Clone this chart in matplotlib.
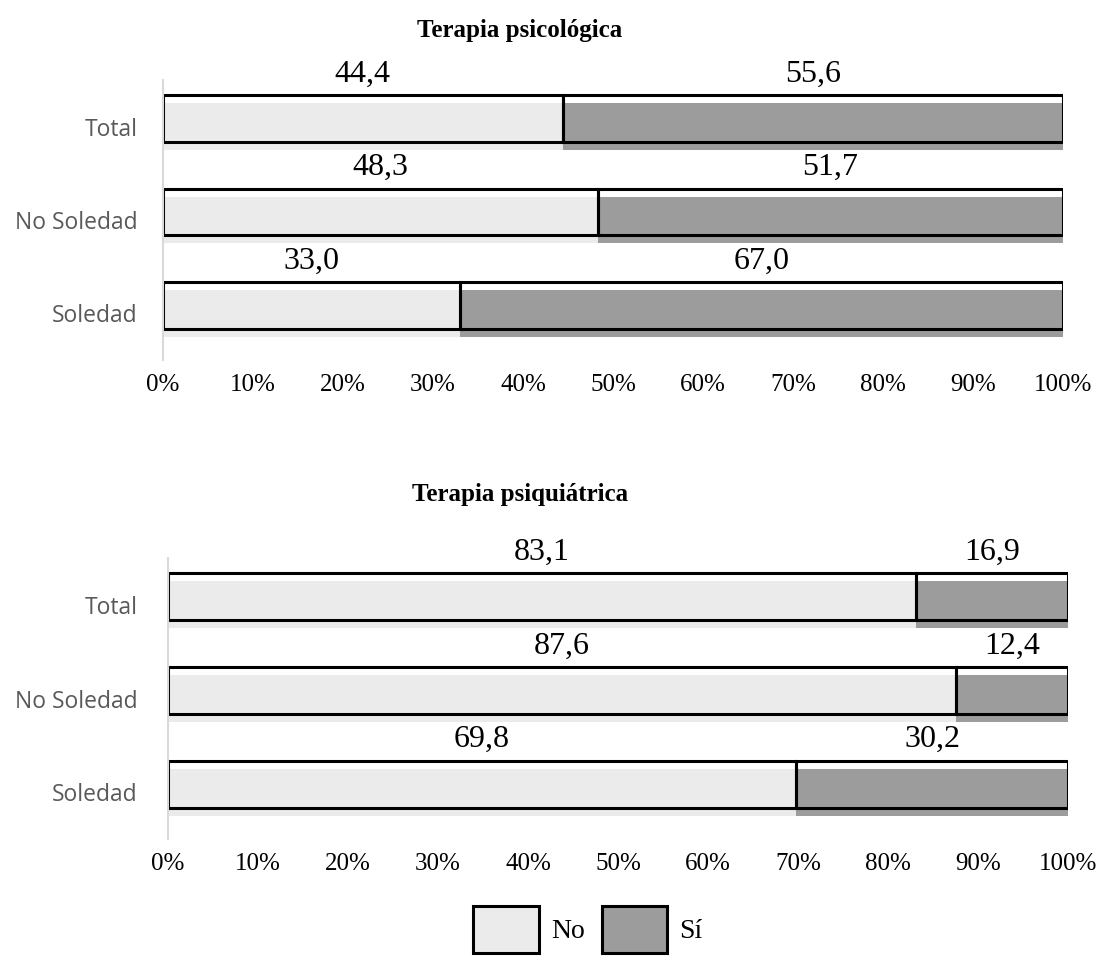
import matplotlib
matplotlib.use('Agg')
import matplotlib.pyplot as plt
from matplotlib.patches import Patch
import numpy as np

# Data
categories = ['Total', 'No Soledad', 'Soledad']
psico_no = [44.4, 48.3, 33.0]
psico_si = [55.6, 51.7, 67.0]
psiq_no = [83.1, 87.6, 69.8]
psiq_si = [16.9, 12.4, 30.2]
xticks = [0, 10, 20, 30, 40, 50, 60, 70, 80, 90, 100]

# Colors
c_no = '#EBEBEB'
c_si = '#9C9C9C'
c_spine = '#D9D9D9'
c_ylab = '#595959'

serif = ['Liberation Serif', 'DejaVu Serif']
sans = ['Open Sans', 'DejaVu Sans']

fig = plt.figure(figsize=(10.99, 9.56), dpi=100)

shift = 0.086   # outline sits a bit above the fill
h = 0.5


def fmt(v):
    return f'{v:.1f}'.replace('.', ',')


def draw_panel(ax, no_vals, si_vals):
    y = np.arange(len(categories))
    no_vals = np.array(no_vals)
    si_vals = np.array(si_vals)
    # fills
    ax.barh(y, no_vals, height=h, color=c_no, linewidth=0)
    ax.barh(y, si_vals, left=no_vals, height=h, color=c_si, linewidth=0)
    # outlines
    ax.barh(y - shift, no_vals, height=h, facecolor='none',
            edgecolor='black', linewidth=2.2)
    ax.barh(y - shift, si_vals, left=no_vals, height=h, facecolor='none',
            edgecolor='black', linewidth=2.2)
    # value labels
    for i in range(len(categories)):
        ax.text(no_vals[i] / 2, y[i] - 0.56, fmt(no_vals[i]),
                ha='center', va='center', fontsize=23, family=serif)
        ax.text(no_vals[i] + si_vals[i] / 2, y[i] - 0.56, fmt(si_vals[i]),
                ha='center', va='center', fontsize=23, family=serif)
    ax.set_xlim(0, 100)
    ax.set_ylim(len(categories) - 0.5, -0.5)
    ax.set_yticks(y)
    ax.set_yticklabels(categories, family=sans, fontsize=16.5, color=c_ylab)
    ax.set_xticks(xticks)
    ax.set_xticklabels([f'{t}%' for t in xticks], family=serif, fontsize=18)
    ax.tick_params(axis='both', length=0)
    ax.tick_params(axis='x', pad=10)
    for s in ['top', 'right', 'bottom']:
        ax.spines[s].set_visible(False)
    ax.spines['left'].set_color(c_spine)
    ax.spines['left'].set_linewidth(1.5)


ax1 = fig.add_axes([163 / 1099, 1 - 360 / 956, 900 / 1099, 280 / 956])
draw_panel(ax1, psico_no, psico_si)
ax1.tick_params(axis='y', pad=18.5)

ax2 = fig.add_axes([168 / 1099, 1 - 839 / 956, 900 / 1099, 281 / 956])
draw_panel(ax2, psiq_no, psiq_si)
ax2.tick_params(axis='y', pad=22)

fig.text(520 / 1099, 1 - 30 / 956, 'Terapia psicológica', ha='center',
         va='center', fontsize=18, fontweight='bold', family=serif)
fig.text(520 / 1099, 1 - 494 / 956, 'Terapia psiquiátrica', ha='center',
         va='center', fontsize=18, fontweight='bold', family=serif)

handles = [Patch(facecolor=c_no, edgecolor='black', linewidth=2.2, label='No'),
           Patch(facecolor=c_si, edgecolor='black', linewidth=2.2, label='Sí')]
fig.legend(handles=handles, loc='lower center', ncol=2,
           bbox_to_anchor=(0.535, -0.014), frameon=False,
           prop={'family': serif, 'size': 20},
           handlelength=2.35, handleheight=2.2, handletextpad=0.45,
           columnspacing=0.6, borderpad=0.1)

plt.savefig('out.png', dpi=100)
